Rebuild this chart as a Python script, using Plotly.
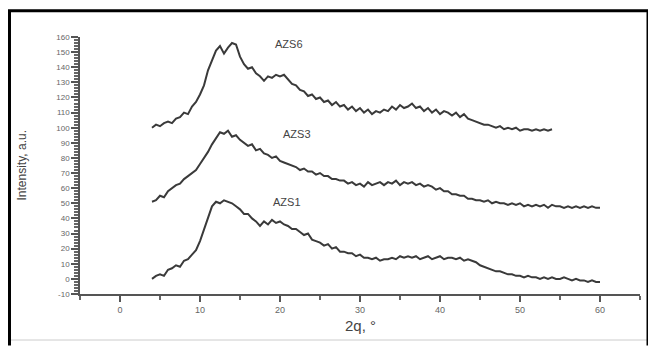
import plotly.graph_objects as go

# 2-theta sampling (degrees)
two_theta_long = [4, 4.5, 5, 5.5, 6, 6.5, 7, 7.5, 8, 8.5, 9, 9.5, 10, 10.5, 11, 11.5,
                  12, 12.5, 13, 13.5, 14, 14.5, 15, 15.5, 16, 16.5, 17, 17.5, 18, 18.5,
                  19, 19.5, 20, 20.5, 21, 21.5, 22, 22.5, 23, 23.5, 24, 24.5, 25, 25.5,
                  26, 26.5, 27, 27.5, 28, 28.5, 29, 29.5, 30, 30.5, 31, 31.5, 32, 32.5,
                  33, 33.5, 34, 34.5, 35, 35.5, 36, 36.5, 37, 37.5, 38, 38.5, 39, 39.5,
                  40, 40.5, 41, 41.5, 42, 42.5, 43, 43.5, 44, 44.5, 45, 45.5, 46, 46.5,
                  47, 47.5, 48, 48.5, 49, 49.5, 50, 50.5, 51, 51.5, 52, 52.5, 53, 53.5,
                  54, 54.5, 55, 55.5, 56, 56.5, 57, 57.5, 58, 58.5, 59, 59.5, 60]
two_theta_azs6 = two_theta_long[:101]  # 4 .. 54

azs6 = [100, 102, 101, 103, 104, 103, 106, 107, 110, 109, 114, 117, 122, 128, 138, 145,
        151, 154, 149, 153, 156, 155, 147, 142, 139, 140, 136, 134, 131, 134,
        133, 135, 134, 135, 132, 129, 128, 125, 124, 121, 122, 119, 120, 117,
        118, 115, 117, 114, 115, 112, 114, 111, 113, 110, 112, 109, 111, 110,
        112, 111, 114, 112, 115, 113, 114, 116, 113, 114, 111, 113, 110, 112,
        109, 111, 110, 108, 110, 107, 109, 106, 105, 104, 103, 102, 102, 101,
        100, 101, 99, 100, 99, 100, 98, 99, 99, 98, 99, 98, 99, 98, 99]

azs3 = [51, 52, 55, 54, 58, 60, 62, 63, 66, 68, 70, 72, 76, 80, 84, 89,
        93, 97, 96, 98, 94, 95, 92, 90, 88, 89, 85, 86, 83, 82,
        80, 81, 78, 77, 76, 75, 74, 72, 73, 71, 71, 69, 70, 68,
        68, 66, 66, 65, 65, 63, 64, 62, 63, 61, 64, 62, 63, 64,
        62, 64, 63, 65, 62, 64, 63, 64, 62, 63, 61, 62, 61, 59,
        60, 58, 58, 56, 56, 55, 55, 53, 53, 52, 52, 51, 52, 50,
        51, 50, 50, 49, 50, 49, 50, 48, 49, 48, 49, 48, 49, 47,
        49, 48, 48, 47, 48, 47, 48, 47, 48, 47, 48, 47, 47]

azs1 = [0, 2, 3, 2, 6, 7, 9, 8, 12, 13, 16, 19, 25, 33, 41, 48,
        51, 50, 52, 51, 50, 48, 46, 43, 43, 40, 38, 35, 38, 36,
        39, 37, 38, 36, 35, 33, 33, 31, 29, 30, 26, 25, 24, 22,
        23, 20, 21, 18, 18, 17, 17, 15, 16, 14, 14, 13, 14, 12,
        13, 13, 14, 13, 15, 14, 15, 14, 15, 13, 14, 15, 13, 14,
        15, 13, 14, 14, 13, 14, 12, 13, 12, 11, 9, 8, 7, 6,
        5, 5, 4, 3, 3, 2, 2, 1, 2, 1, 1, 0, 1, 0,
        1, 0, 0, 1, 0, -1, 0, -1, -1, -2, -1, -2, -2]

series_names = ["AZS6", "AZS3", "AZS1"]
label_x = [21.1, 22.1, 20.9]
label_y = [155.5, 96, 51]

x_ticks = [0, 10, 20, 30, 40, 50, 60]
y_ticks = list(range(-10, 161, 10))

line_color = "#3a3a3a"
fig = go.Figure()
for xs, ys, nm in [(two_theta_azs6, azs6, "AZS6"), (two_theta_long, azs3, "AZS3"),
                   (two_theta_long, azs1, "AZS1")]:
    fig.add_trace(go.Scatter(x=xs, y=ys, mode="lines", name=nm,
                             line=dict(color=line_color, width=2)))

for nm, lx, ly in zip(series_names, label_x, label_y):
    fig.add_annotation(x=lx, y=ly, text=nm, showarrow=False,
                       font=dict(family="Liberation Sans", size=11, color="#444"))

# axis titles
fig.add_annotation(xref="paper", yref="paper", x=0.5, y=-0.122, text="2q, °",
                   xanchor="center", yanchor="middle",
                   showarrow=False, font=dict(family="Liberation Sans", size=15, color="#444"))
fig.add_annotation(xref="paper", yref="paper", x=-0.1036, y=0.5, text="Intensity, a.u.",
                   xanchor="center", yanchor="middle",
                   textangle=-90, showarrow=False,
                   font=dict(family="Liberation Sans", size=12, color="#444"))

# outer frame (black on left, top, right; faint at bottom)
L, R, T, B = -0.1259, 1.0143, 1.102, -0.2
fig.add_shape(type="line", xref="paper", yref="paper", x0=L, x1=R, y0=-0.179, y1=-0.179,
              line=dict(color="#cccccc", width=1))
fig.add_shape(type="path", xref="paper", yref="paper",
              path=f"M {L} {B} L {L} {T} L {R} {T} L {R} {B}",
              line=dict(color="black", width=3))

# page body has an 8px margin, so the figure is shrunk by 8px on both axes
fig.update_layout(
    width=648, height=338,
    margin=dict(l=72, r=16, t=29, b=52),
    paper_bgcolor="white", plot_bgcolor="white",
    showlegend=False,
    font=dict(family="Liberation Sans", color="#555"),
    xaxis=dict(range=[-5, 65], tickvals=x_ticks, ticktext=[str(v) for v in x_ticks],
               showgrid=False, zeroline=False, showline=True, linecolor="#555", linewidth=1.5,
               ticks="outside", ticklen=6, tickcolor="#555", tickwidth=1.5,
               tickfont=dict(size=9, color="#666"),
               minor=dict(dtick=5, tick0=0, ticks="outside", ticklen=4, tickcolor="#666")),
    yaxis=dict(range=[-10, 160], tickvals=y_ticks, ticktext=[str(v) for v in y_ticks],
               showgrid=False, zeroline=False, showline=True, linecolor="#555", linewidth=1.5,
               ticks="outside", ticklen=7, tickcolor="#555", tickwidth=1.5,
               tickfont=dict(size=8, color="#666"),
               minor=dict(dtick=2, tick0=0, ticks="outside", ticklen=4, tickcolor="#666")),
)

fig.write_html("out.html")
